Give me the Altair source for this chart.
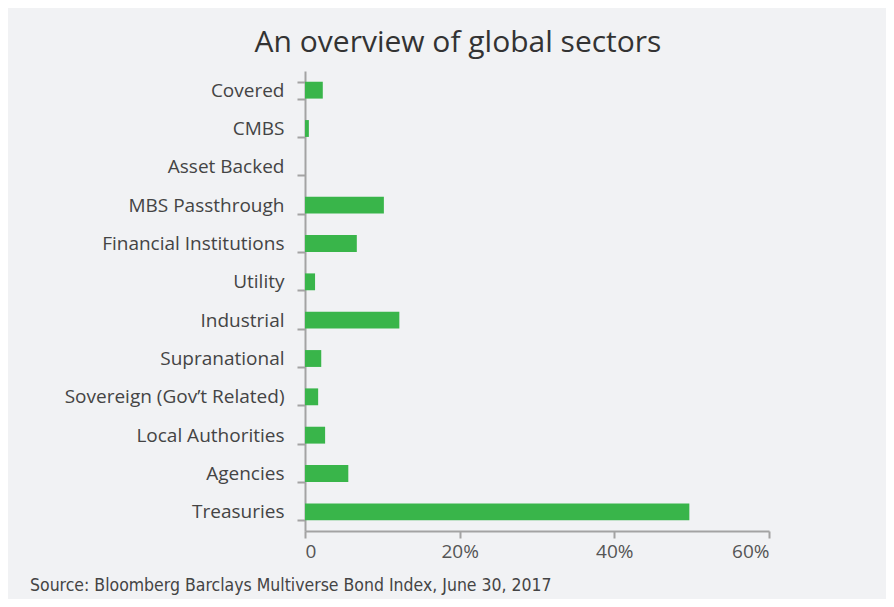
import altair as alt
import pandas as pd

categories = ["Covered", "CMBS", "Asset Backed", "MBS Passthrough", "Financial Institutions",
              "Utility", "Industrial", "Supranational", "Sovereign (Gov\u2019t Related)",
              "Local Authorities", "Agencies", "Treasuries"]
values = [2.3, 0.5, 0.0, 10.2, 6.7, 1.3, 12.2, 2.1, 1.7, 2.6, 5.6, 49.7]
x_ticks = [0, 20, 40, 60]
title_text = "An overview of global sectors"
source_text = "Source: Bloomberg Barclays Multiverse Bond Index, June 30, 2017"

df = pd.DataFrame({"sector": categories, "share": values})

bars = alt.Chart(df).mark_bar(color="#39b54a").encode(
    y=alt.Y("sector:N", sort=categories,
            scale=alt.Scale(paddingInner=0.56, paddingOuter=0.28),
            axis=alt.Axis(title=None, tickBand="extent", labelFont="Open Sans",
                          labelFontSize=19, labelColor="#444444", labelPadding=13,
                          labelLimit=400,
                          domainColor="#a3a3a3", domainWidth=2, tickColor="#a3a3a3",
                          tickWidth=2, tickSize=8)),
    x=alt.X("share:Q", scale=alt.Scale(domain=[0, 60], nice=False),
            axis=alt.Axis(title=None, values=x_ticks, grid=False,
                          labelExpr="datum.value == 0 ? '0' : datum.value + '%'",
                          labelFont="Open Sans", labelFontSize=19, labelColor="#555555",
                          labelPadding=4, domainColor="#a3a3a3", domainWidth=2,
                          tickColor="#a3a3a3", tickWidth=2, tickSize=7)),
)

title = alt.Chart(pd.DataFrame({"t": [title_text]})).mark_text(
    font="Open Sans", fontSize=30, color="#333333", align="center", baseline="alphabetic"
).encode(text="t:N", x=alt.value(153), y=alt.value(-19))

source = alt.Chart(pd.DataFrame({"t": [source_text]})).mark_text(
    font="DejaVu Sans Condensed", fontSize=17.5, color="#444444", align="left", baseline="alphabetic"
).encode(text="t:N", x=alt.value(-275), y=alt.value(520))

chart = alt.layer(bars, title, source).properties(
    width=464, height=460,
    autosize=alt.AutoSizeParams(type="none"),
    padding={"left": 297, "top": 63, "right": 117, "bottom": 68},
    background="#f1f2f4",
).configure_view(stroke=None)

chart.save("out.html", embed_options={"renderer": "svg", "actions": False})
